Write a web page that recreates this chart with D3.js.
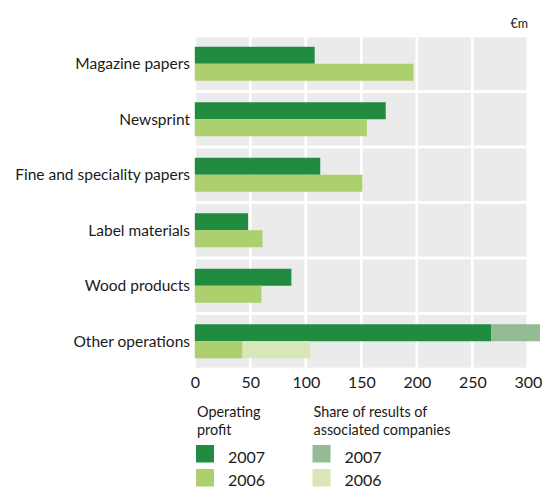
<!DOCTYPE html>
<html>
<head>
<meta charset="utf-8">
<script src="https://cdn.jsdelivr.net/npm/d3@7"></script>
<style>
  html, body { margin: 0; padding: 0; background: #ffffff; }
  svg { display: block; }
  text { font-family: "Lato", "Noto Sans", sans-serif; fill: #1a1a1a; }
</style>
</head>
<body>
<svg id="chart" width="543" height="488"></svg>
<script>
// Operating profit and share of results of associated companies, €m
const categories = [
  "Magazine papers",
  "Newsprint",
  "Fine and speciality papers",
  "Label materials",
  "Wood products",
  "Other operations"
];
const operating2007 = [108, 172, 113, 48, 87, 267];
const operating2006 = [197, 155, 151, 61, 60, 43];
const associated2007 = [0, 0, 0, 0, 0, 44];
const associated2006 = [0, 0, 0, 0, 0, 61];
const tickValues = [0, 50, 100, 150, 200, 250, 300];

const colors = {
  op2007: "#218c3f",
  op2006: "#acd06d",
  as2007: "#94bc94",
  as2006: "#d8e6b8",
  cell: "#ebebeb"
};

const svg = d3.select("#chart");

const x = d3.scaleLinear().domain([0, 300]).range([194.8, 527.8]);
const y = d3.scaleBand().domain(categories).range([36, 369]).paddingInner(0).paddingOuter(0);
const barH = 17;
const gap = 1.35;

// grey cells between white grid lines
const cells = svg.append("g");
categories.forEach(c => {
  for (let i = 0; i < tickValues.length - 1; i++) {
    cells.append("rect")
      .attr("x", x(tickValues[i]) + gap)
      .attr("y", y(c) + gap)
      .attr("width", x(tickValues[i + 1]) - x(tickValues[i]) - 2 * gap)
      .attr("height", y.bandwidth() - 2 * gap)
      .attr("fill", colors.cell);
  }
});

// bars: operating profit followed by associated companies' share
const bars = svg.append("g");
categories.forEach((c, i) => {
  const mid = y(c) + y.bandwidth() / 2;
  const rows = [
    { top: mid - barH, op: operating2007[i], as: associated2007[i], cOp: colors.op2007, cAs: colors.as2007 },
    { top: mid, op: operating2006[i], as: associated2006[i], cOp: colors.op2006, cAs: colors.as2006 }
  ];
  rows.forEach(r => {
    bars.append("rect")
      .attr("x", x(0))
      .attr("y", r.top)
      .attr("width", x(r.op) - x(0))
      .attr("height", barH)
      .attr("fill", r.cOp);
    if (r.as > 0) {
      bars.append("rect")
        .attr("x", x(r.op))
        .attr("y", r.top)
        .attr("width", x(r.op + r.as) - x(r.op))
        .attr("height", barH)
        .attr("fill", r.cAs);
    }
  });
});

// category labels
svg.append("g").selectAll("text")
  .data(categories)
  .join("text")
  .attr("x", 190)
  .attr("y", d => y(d) + y.bandwidth() / 2 + 5.5)
  .attr("text-anchor", "end")
  .attr("font-size", 15.5)
  .text(d => d);

// value axis
const axis = svg.append("g")
  .attr("transform", "translate(0,370)")
  .call(d3.axisBottom(x).tickValues(tickValues).tickSize(0).tickPadding(5));
axis.select(".domain").remove();
axis.selectAll("text")
  .attr("font-size", 16)
  .attr("fill", "#1a1a1a")
  .attr("dy", "0")
  .attr("y", 18.3);

// unit
svg.append("text")
  .attr("x", 528)
  .attr("y", 28.3)
  .attr("text-anchor", "end")
  .attr("font-size", 12.5)
  .text("€m");

// legend
const legend = svg.append("g");
const groups = [
  { x: 196, title: ["Operating", "profit"], items: [["2007", colors.op2007], ["2006", colors.op2006]] },
  { x: 312.5, title: ["Share of results of", "associated companies"], items: [["2007", colors.as2007], ["2006", colors.as2006]] }
];
groups.forEach(g => {
  const title = legend.append("text")
    .attr("x", g.x + 1)
    .attr("y", 417)
    .attr("font-size", 14.4);
  g.title.forEach((t, k) => {
    title.append("tspan")
      .attr("x", g.x + 1)
      .attr("dy", k === 0 ? 0 : 17.5)
      .text(t);
  });
  g.items.forEach((it, k) => {
    legend.append("rect")
      .attr("x", g.x)
      .attr("y", 445 + k * 24)
      .attr("width", 18)
      .attr("height", 17.5)
      .attr("fill", it[1]);
    legend.append("text")
      .attr("x", g.x + 32)
      .attr("y", 462.5 + k * 23.5)
      .attr("font-size", 16)
      .text(it[0]);
  });
});
</script>
</body>
</html>
